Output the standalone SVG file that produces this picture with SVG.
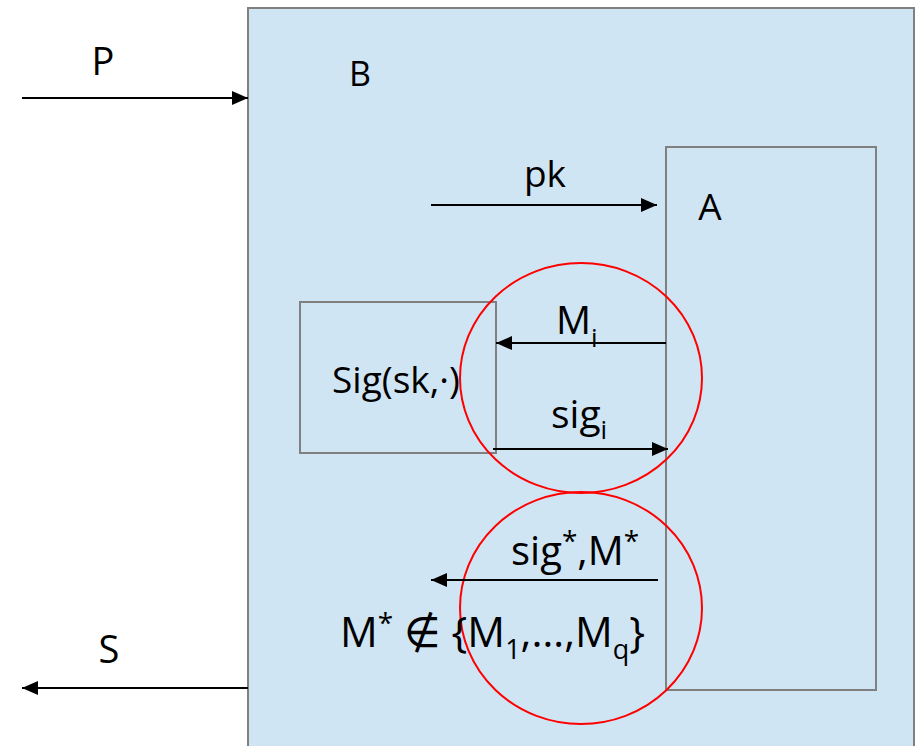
<svg xmlns="http://www.w3.org/2000/svg" width="919" height="746" viewBox="0 0 919 746">
<defs>
<style>
.box{fill:#D0E5F3;stroke:#808080;stroke-width:2}
.inner{fill:none;stroke:#808080;stroke-width:2}
.ring{fill:none;stroke:#FF0000;stroke-width:2}
.edge{stroke:#000;stroke-width:2;fill:none;marker-end:url(#ah)}
text{font-family:"Open Sans","Noto Sans","DejaVu Sans",sans-serif;fill:#000}
</style>
<marker id="ah" viewBox="0 0 16 14" refX="16" refY="7" markerWidth="16" markerHeight="14" markerUnits="userSpaceOnUse" orient="auto">
<path d="M0,0 L16,7 L0,14 Z" fill="#000"/>
</marker>
</defs>
<rect width="919" height="746" fill="#FFFFFF"/>
<g id="B">
<rect class="box" x="248" y="8" width="666" height="750"/>
<text x="360" y="86" font-size="34" text-anchor="middle">B</text>
</g>
<g id="A">
<rect class="inner" x="666" y="147" width="210" height="543"/>
<text x="710" y="220" font-size="37" text-anchor="middle">A</text>
</g>
<g id="Sig">
<rect class="inner" x="300" y="302" width="196" height="151"/>
<text x="332" y="393" font-size="37" textLength="128" lengthAdjust="spacingAndGlyphs">Sig(sk,·)</text>
</g>
<g id="circles">
<ellipse class="ring" cx="581" cy="378" rx="121" ry="115"/>
<ellipse class="ring" cx="581" cy="608" rx="121" ry="116"/>
</g>
<g id="connectors">
<line class="edge" x1="22" y1="98" x2="248" y2="98"/>
<line class="edge" x1="431" y1="205" x2="657" y2="205"/>
<line class="edge" x1="666" y1="343" x2="496" y2="343"/>
<line class="edge" x1="493" y1="449" x2="668" y2="449"/>
<line class="edge" x1="658" y1="580" x2="431" y2="580"/>
<line class="edge" x1="248" y1="688" x2="22" y2="688"/>
</g>
<g id="labels">
<text x="103" y="75" font-size="38" text-anchor="middle">P</text>
<text x="545" y="187" font-size="37" text-anchor="middle">pk</text>
<text x="109" y="663" font-size="38" text-anchor="middle">S</text>
<text x="556" y="334" font-size="39">M<tspan font-size="26" dy="13">i</tspan></text>
<text x="551" y="428" font-size="39">sig<tspan font-size="26" dy="11">i</tspan></text>
<text x="511" y="565" font-size="40">sig<tspan font-size="28" dy="-14">*</tspan><tspan dy="14">,M</tspan><tspan font-size="28" dy="-14">*</tspan></text>
<text x="340" y="647" font-size="42">M<tspan font-size="28" dy="-14">*</tspan><tspan dy="14"> ∉ {M</tspan><tspan font-size="27" dy="12">1</tspan><tspan dy="-12">,…,M</tspan><tspan font-size="27" dy="12">q</tspan><tspan dy="-12">}</tspan></text>
</g>
</svg>
